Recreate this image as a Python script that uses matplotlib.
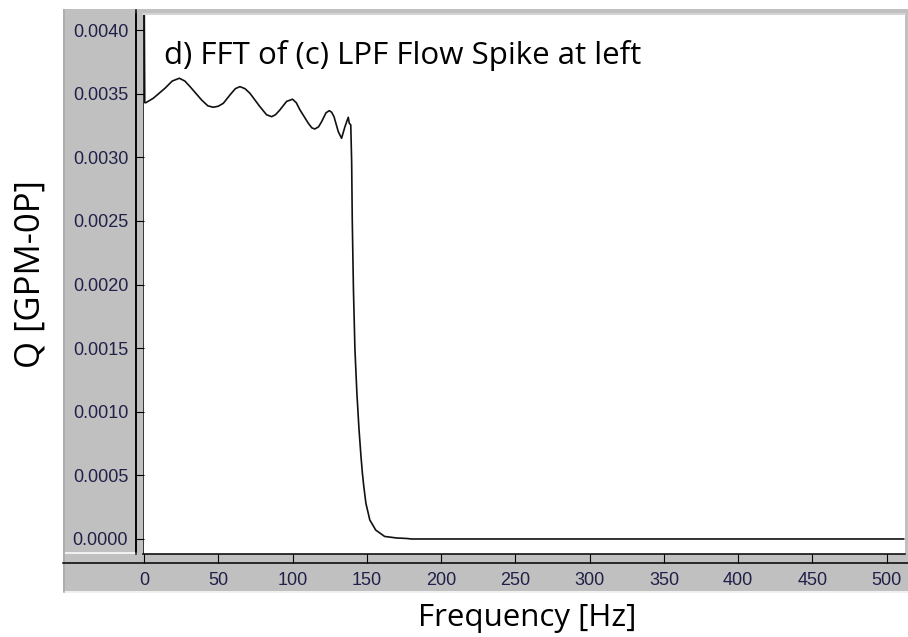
import matplotlib
matplotlib.use("Agg")
import matplotlib.pyplot as plt
from matplotlib.lines import Line2D
from matplotlib.patches import Rectangle


# FFT del pulso de caudal filtrado
FREQ_HZ = [0.0, 0.5, 1.3, 6.3, 14.1, 19.0, 23.8, 27.5, 31.0, 38.8, 43.0, 46.6,
           50.0, 53.4, 57.9, 61.5, 64.6, 68.0, 71.3, 78.0, 82.5, 85.9, 88.5,
           91.5, 96.0, 100.0, 102.5, 105.0, 110.6, 113.0, 115.0, 117.5, 119.6,
           122.5, 124.7, 126.3, 127.9, 130.8, 133.0, 135.3, 137.5, 138.2,
           139.2, 139.8, 140.2, 141.0, 142.0, 143.3, 144.7, 146.0, 147.0,
           148.0, 149.4, 152.0, 156.0, 162.0, 170.0, 177.0, 180.0, 511.4]
Q_GPM = [4.60e-3, 3.43e-3, 3.43e-3, 3.465e-3, 3.543e-3, 3.600e-3, 3.622e-3,
         3.600e-3, 3.556e-3, 3.451e-3, 3.405e-3, 3.394e-3, 3.402e-3, 3.425e-3,
         3.491e-3, 3.540e-3, 3.556e-3, 3.540e-3, 3.504e-3, 3.399e-3,
         3.335e-3, 3.320e-3, 3.335e-3, 3.373e-3, 3.440e-3, 3.457e-3,
         3.430e-3, 3.373e-3, 3.268e-3, 3.232e-3, 3.223e-3, 3.240e-3,
         3.281e-3, 3.350e-3, 3.367e-3, 3.355e-3, 3.320e-3, 3.202e-3,
         3.150e-3, 3.242e-3, 3.315e-3, 3.268e-3, 3.255e-3, 2.96e-3, 2.51e-3,
         1.96e-3, 1.49e-3, 1.15e-3, 0.87e-3, 0.66e-3, 0.52e-3, 0.41e-3,
         0.28e-3, 0.15e-3, 0.07e-3, 0.02e-3, 0.008e-3, 0.004e-3, 0.0, 0.0]

X_TICKS = [0, 50, 100, 150, 200, 250, 300, 350, 400, 450, 500]
Y_TICKS = [0.0000, 0.0005, 0.0010, 0.0015, 0.0020, 0.0025, 0.0030, 0.0035, 0.0040]

W, H = 908, 637
GRIS = "#c0c0c0"
TICK_COLOR = "#202048"

plt.rcParams["font.family"] = "Liberation Sans"


def fx(px):
    return px / W


def fy(py):
    return 1 - py / H


fig = plt.figure(figsize=(W / 100, H / 100), dpi=100)
fig.patch.set_facecolor("white")

# panel gris estilo ventana
fig.add_artist(Rectangle((fx(63), fy(593)), fx(908) - fx(63), fy(9) - fy(593),
                         transform=fig.transFigure, facecolor=GRIS,
                         edgecolor="none", zorder=0))
for xs, ys, c in [([65, 136], [553, 553], "white"),
                  ([63, 908], [592, 592], "white"),
                  ([64, 64], [10, 592], "#a8a8a8"),
                  ([63, 908], [563, 563], "black"),
                  ([136, 136], [10, 553], "black")]:
    fig.add_artist(Line2D([fx(v) for v in xs], [fy(v) for v in ys],
                          transform=fig.transFigure, color=c, lw=1.1, zorder=1))

ax = fig.add_axes([fx(143), fy(554), fx(905) - fx(143), fy(14) - fy(554)])
ax.set_facecolor("white")
ax.plot(FREQ_HZ, Q_GPM, color="#111111", lw=1.2, clip_on=True)

ax.spines["left"].set_position(("outward", 5.2))
ax.spines["left"].set_color("black")
ax.spines["left"].set_linewidth(1.1)
ax.spines["bottom"].set_color("black")
ax.spines["bottom"].set_linewidth(1.1)
ax.spines["top"].set_color("#d4d4d4")
ax.spines["top"].set_linewidth(1.5)
ax.spines["right"].set_visible(False)

ax.set_xlim(-0.67, 512.3)
ax.set_ylim(-0.118e-3, 4.127e-3)
ax.set_xticks(X_TICKS)
ax.set_xticklabels([str(v) for v in X_TICKS])
ax.set_yticks(Y_TICKS)
ax.set_yticklabels(["%.4f" % v for v in Y_TICKS])

ax.tick_params(axis="x", direction="out", length=6.5, width=0.8, pad=6.5,
               color="black", labelsize=13, labelcolor=TICK_COLOR)
ax.tick_params(axis="y", direction="in", length=5.5, width=0.8, pad=5.5,
               color="black", labelsize=13, labelcolor=TICK_COLOR)
# linea del borde del area blanca (los ticks del eje y quedan en la franja gris)
ax.axvline(ax.get_xlim()[0], color="black", lw=1.1)

fig.text(fx(164), fy(64), "d) FFT of (c) LPF Flow Spike at left",
         fontfamily="Open Sans", fontsize=22.5, ha="left", va="baseline",
         color="black")
fig.text(fx(527), fy(626), "Frequency [Hz]", fontfamily="Open Sans",
         fontsize=22.5, ha="center", va="baseline", color="black")
fig.text(fx(31), fy(274), "Q [GPM-0P]", fontfamily="Open Sans", fontsize=25,
         rotation=90, ha="center", va="center", color="black")

fig.savefig("out.png", dpi=100)
